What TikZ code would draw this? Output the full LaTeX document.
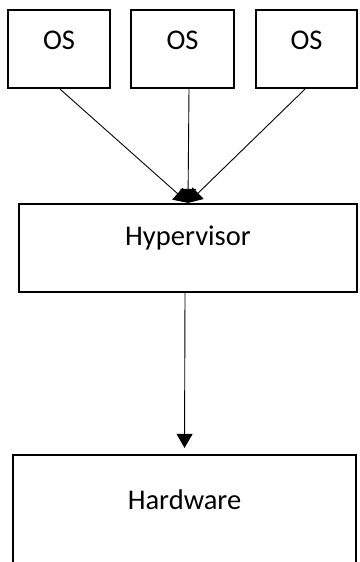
\documentclass[tikz,border=0pt]{standalone}
\usepackage{fontspec}
\setmainfont{Carlito}
\usetikzlibrary{arrows.meta,calc}
\begin{document}
\begin{tikzpicture}[x=1pt,y=-1pt,
  box/.style={draw=black,line width=2.2pt,rectangle,inner sep=0pt},
  lbl/.style={font=\fontsize{28.5}{30}\selectfont,text=black},
  link/.style={draw=black,line width=0.9pt,-{Triangle[width=16pt,length=14pt]}}]
\useasboundingbox (0,0) rectangle (359,562);
\clip (0,0) rectangle (359,562);
% guest operating systems
\node[box,minimum width=102pt,minimum height=78pt,label={[lbl,yshift=9pt]center:OS}] (os1) at (59,49) {};
\node[box,minimum width=103pt,minimum height=78pt,label={[lbl,yshift=9pt]center:OS}] (os2) at (182.5,49) {};
\node[box,minimum width=101pt,minimum height=78pt,label={[lbl,yshift=9pt]center:OS}] (os3) at (306.5,49) {};
% hypervisor layer
\node[box,minimum width=338pt,minimum height=88pt,label={[lbl,yshift=10pt]center:Hypervisor}] (hyp) at (188,248) {};
% hardware layer (runs past the lower edge)
\node[box,minimum width=343pt,minimum height=150pt,label={[lbl,yshift=30pt]center:Hardware}] (hw) at (184.5,530) {};
% connectors
\draw[link] ($(os1.south)+(1,0)$) -- (hyp.north);
\draw[link] ($(os2.south)+(6.5,0)$) -- (hyp.north);
\draw[link] ($(os3.south)+(-1.5,0)$) -- (hyp.north);
\draw[link,shorten >=6pt] ($(hyp.south)+(-3,0)$) -- (hw.north);
\end{tikzpicture}
\end{document}
